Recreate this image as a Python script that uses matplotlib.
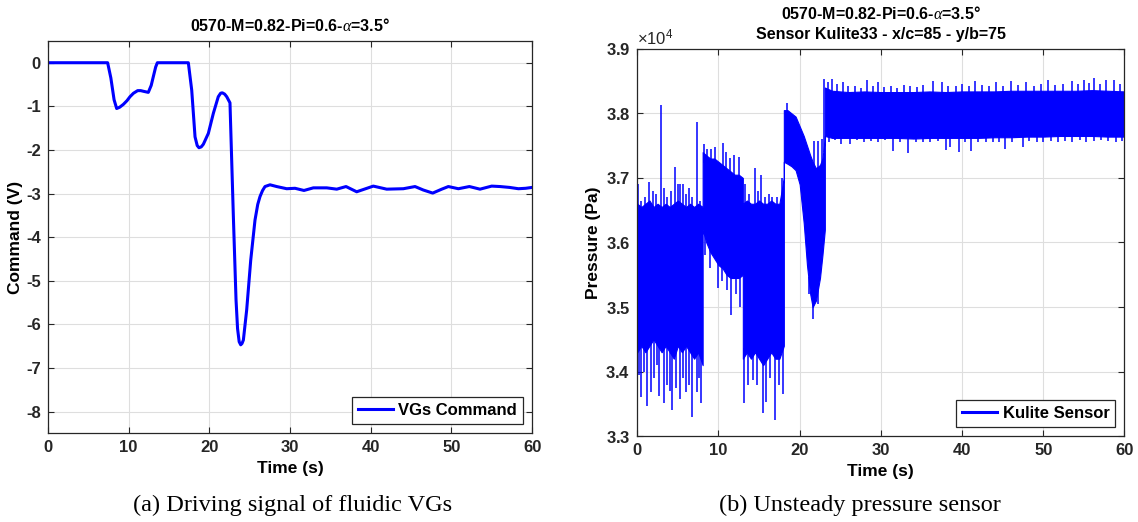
import numpy as np
import matplotlib
matplotlib.use("Agg")
import matplotlib.pyplot as plt
from matplotlib.ticker import ScalarFormatter

# ---------------- (a) VG driving command ----------------
cmd_t = [0, 7.4, 7.8, 8.2, 8.52, 8.9, 9.35, 9.8, 10.17, 10.6, 11.12, 11.5, 11.83,
         12.44, 12.8, 13.06, 13.35, 13.56, 17.4, 17.82, 18.23, 18.5, 18.72, 19.0,
         19.26, 19.88, 20.5, 21.11, 21.4, 21.61, 21.9, 22.16, 22.56, 22.98, 23.31,
         23.5, 23.7, 23.89, 24.05, 24.22, 24.63, 25.13, 25.66, 26.0, 26.28, 26.6,
         26.9, 27.52, 28.35, 29.59, 30.62, 31.73, 32.89, 34.55, 35.79, 36.94,
         38.26, 40.32, 41.98, 44.04, 45.49, 46.52, 47.68, 48.8, 49.62, 50.86,
         52.22, 53.54, 54.99, 56.02, 57.2, 58.3, 59.2, 60.0]
cmd_v = [0, 0, -0.35, -0.85, -1.05, -1.02, -0.955, -0.87, -0.78, -0.70, -0.64,
         -0.64, -0.655, -0.68, -0.52, -0.32, -0.1, 0, 0, -0.63, -1.70, -1.90,
         -1.95, -1.93, -1.87, -1.62, -1.16, -0.78, -0.70, -0.69, -0.72, -0.78,
         -0.92, -3.53, -5.44, -6.10, -6.40, -6.47, -6.44, -6.36, -5.67, -4.53,
         -3.61, -3.25, -3.07, -2.93, -2.84, -2.80, -2.84, -2.89, -2.88, -2.93,
         -2.87, -2.87, -2.90, -2.84, -2.96, -2.83, -2.90, -2.89, -2.84, -2.92,
         -2.99, -2.90, -2.84, -2.89, -2.84, -2.90, -2.83, -2.84, -2.86, -2.89,
         -2.88, -2.86]

# ---------------- (b) Kulite pressure signal (Pa) ----------------
# band of the dense signal: time, upper and lower envelope
env_t = [0, 0.5, 1, 1.5, 2, 2.5, 3, 3.5, 4, 4.5, 5, 5.5, 6, 6.5, 7, 7.5, 8.05,
         8.05, 8.5, 9, 9.5, 10, 10.5, 11, 11.5, 12, 12.5, 13.0,
         13.0, 13.5, 14, 14.5, 15, 15.5, 16, 16.5, 17, 17.5, 18.05,
         18.05, 18.5, 19.0, 19.5, 20.0, 20.5, 20.9, 21.3, 21.6, 22.0, 22.5, 22.8, 23.1,
         23.1, 24, 26, 28, 30, 32, 34, 36, 38, 40, 42, 44, 46, 48, 50, 52, 54,
         56, 58, 60]
env_hi = [36600, 36550, 36600, 36650, 36550, 36600, 36550, 36600, 36550, 36600,
          36650, 36600, 36550, 36600, 36550, 36600, 36550,
          37400, 37350, 37300, 37300, 37250, 37200, 37150, 37100, 37050, 37050, 37000,
          36600, 36650, 36600, 36600, 36650, 36600, 36600, 36650, 36600, 36600, 37000,
          38050, 38050, 38000, 37950, 37800, 37650, 37500, 37350, 37250, 37150, 37200,
          37300, 37600,
          38400, 38350, 38330, 38340, 38330, 38330, 38330, 38340, 38330, 38340, 38340,
          38340, 38350, 38350, 38350, 38350, 38350, 38360, 38350, 38340]
env_lo = [34300, 34400, 34300, 34400, 34500, 34400, 34300, 34400, 34300, 34200,
          34400, 34300, 34400, 34300, 34200, 34300, 34100,
          36200, 36000, 35850, 35750, 35650, 35600, 35500, 35450, 35450, 35450, 35500,
          34200, 34300, 34200, 34300, 34200, 34100, 34200, 34300, 34200, 34200, 34400,
          37250, 37220, 37180, 37120, 36900, 36300, 35650, 35200, 35000, 35100, 35450,
          35800, 36200,
          37650, 37620, 37620, 37620, 37620, 37620, 37610, 37620, 37620, 37620, 37620,
          37630, 37630, 37640, 37640, 37650, 37650, 37650, 37640, 37640]

# isolated excursions above the band (time, value)
spk_up_t = [0.05, 0.4, 0.9, 1.5, 1.9, 2.3, 2.92, 3.3, 3.7, 4.1, 4.64, 5.0, 5.2,
            5.6, 6.0, 6.4, 6.8, 7.31, 7.7,
            8.2, 8.6, 9.1, 9.6, 10.5, 10.9, 11.4, 11.9, 12.5,
            13.3, 13.8, 14.45, 14.9, 15.2, 15.7, 16.2, 16.6, 17.2, 17.8,
            18.5, 21.8, 22.3, 22.7,
            23.05, 23.5, 24.0, 24.6, 25.3, 26.0, 26.8, 27.5, 28.3, 29.0, 29.6,
            30.4, 31.2, 32.0, 32.8, 33.6, 34.4, 35.2, 36.4, 37.5, 38.3, 39.2,
            40.0, 40.8, 41.6, 42.5, 43.3, 44.2, 45.1, 46.0, 46.9, 47.9, 48.8,
            49.7, 50.6, 51.5, 52.4, 53.6, 54.3, 55.0, 55.6, 56.2, 57.0, 57.7,
            58.7, 59.5]
spk_up_v = [36900, 36650, 36700, 36930, 36800, 36750, 38130, 36850, 36700, 36800,
            37170, 36900, 36900, 36900, 36750, 36850, 36700, 37870, 36650,
            37520, 37450, 37450, 37480, 37540, 37400, 37310, 37350, 37330,
            36900, 36750, 37150, 36800, 37050, 36700, 36750, 36700, 36700, 37000,
            38160, 37570, 37570, 37600,
            38530, 38480, 38530, 38460, 38480, 38420, 38430, 38400, 38510, 38420,
            38480, 38410, 38420, 38400, 38440, 38420, 38410, 38440, 38500, 38480,
            38420, 38430, 38450, 38420, 38500, 38440, 38420, 38480, 38430, 38500,
            38440, 38480, 38420, 38450, 38520, 38440, 38460, 38500, 38450, 38520,
            38470, 38550, 38460, 38520, 38520, 38450]

# isolated excursions below the band (time, value)
spk_dn_t = [0.2, 0.46, 0.8, 1.15, 1.64, 2.0, 2.4, 2.7, 3.3, 3.7, 4.0, 4.3, 4.8,
            5.2, 5.6, 6.0, 6.4, 6.8, 7.3, 7.6, 7.9,
            8.4, 9.0, 9.9, 10.4, 11.1, 11.6, 12.2, 12.7,
            13.1, 13.6, 14.3, 14.8, 15.5, 15.8, 16.3, 17.0, 17.5, 17.9,
            21.2, 21.6, 22.3,
            23.6, 24.3, 25.1, 26.2, 27.0, 27.9, 28.8, 29.7, 30.5, 31.5, 32.4,
            33.4, 34.3, 35.2, 36.1, 37.0, 38.0, 38.5, 39.6, 40.3, 41.1, 42.0,
            42.9, 43.8, 44.6, 45.3, 46.2, 47.5, 48.3, 49.2, 50.0, 50.9, 51.8,
            52.7, 53.6, 54.5, 55.3, 56.2, 57.1, 58.0, 58.9, 59.7]
spk_dn_v = [33950, 33610, 34000, 33460, 33680, 33900, 34100, 33630, 33510, 33800,
            33700, 33400, 33750, 33580, 33900, 33680, 33800, 33300, 33680, 33900,
            33510,
            35800, 35600, 35300, 35400, 35260, 34880, 35200, 35000,
            33510, 33800, 33870, 33800, 33360, 33530, 33900, 33250, 33800, 33650,
            35200, 34820, 35040,
            37560, 37580, 37530, 37530, 37580, 37560, 37570, 37550, 37580, 37420,
            37560, 37380, 37560, 37560, 37550, 37570, 37430, 37480, 37400, 37560,
            37420, 37560, 37560, 37550, 37560, 37450, 37560, 37480, 37570, 37560,
            37560, 37570, 37560, 37570, 37560, 37580, 37560, 37570, 37580, 37570,
            37560, 37570]

# ---------------- styling ----------------
plt.rcParams['font.family'] = ['Liberation Sans', 'DejaVu Sans']
plt.rcParams['mathtext.fontset'] = 'custom'
plt.rcParams['mathtext.it'] = 'Liberation Serif:italic'
plt.rcParams['mathtext.rm'] = 'Liberation Sans'
plt.rcParams['axes.unicode_minus'] = False

BLUE = (0, 0, 1)
SPINE = (0.15, 0.15, 0.15)
GRID = (0.87, 0.87, 0.87)


def style_axes(ax):
    ax.grid(True, color=GRID, linewidth=0.8)
    ax.set_axisbelow(True)
    for s in ax.spines.values():
        s.set_color(SPINE)
        s.set_linewidth(0.9)
    ax.tick_params(direction='in', length=4, width=0.8, colors=SPINE,
                   top=True, right=True, labelsize=12, pad=5)
    for lab in ax.get_xticklabels() + ax.get_yticklabels():
        lab.set_fontweight('bold')
        lab.set_color((0.15, 0.15, 0.15))


def add_legend(ax):
    leg = ax.legend(loc='lower right', frameon=True, fancybox=False,
                    edgecolor=SPINE, framealpha=1, handlelength=2.1,
                    handletextpad=0.35, borderpad=0.35, borderaxespad=0.55,
                    prop={'weight': 'bold', 'size': 12})
    leg.get_frame().set_linewidth(0.9)
    return leg


fig = plt.figure(figsize=(11.38, 5.22), dpi=100)

# ---- left panel ----
axL = fig.add_axes([0.0421, 0.1699, 0.4255, 0.7517])
axL.plot(cmd_t, cmd_v, color=BLUE, linewidth=2.2, label='VGs Command',
         solid_joinstyle='round')
axL.set_xlim(0, 60)
axL.set_ylim(-8.5, 0.5)
axL.set_xticks(range(0, 61, 10))
axL.set_yticks(range(-8, 1))
style_axes(axL)
axL.set_xlabel('Time (s)', fontsize=12.5, fontweight='bold', labelpad=4)
axL.set_ylabel('Command (V)', fontsize=12.5, fontweight='bold', labelpad=2)
axL.set_title(r'0570-M=0.82-Pi=0.6-$\alpha$=3.5°', fontsize=11.5,
              fontweight='bold', pad=7)
add_legend(axL)

# ---- right panel ----
axR = fig.add_axes([0.5600, 0.1644, 0.4281, 0.7421])
axR.fill_between(env_t, env_lo, env_hi, color=BLUE, linewidth=0.8,
                 edgecolor=BLUE)
t_arr = np.array(env_t)
base_hi = np.interp(spk_up_t, t_arr, np.array(env_hi))
base_lo = np.interp(spk_dn_t, t_arr, np.array(env_lo))
axR.vlines(spk_up_t, base_hi - 150, spk_up_v, color=BLUE, linewidth=1.1)
axR.vlines(spk_dn_t, spk_dn_v, base_lo + 150, color=BLUE, linewidth=1.1)
axR.plot([], [], color=BLUE, linewidth=2.2, label='Kulite Sensor')
axR.set_xlim(0, 60)
axR.set_ylim(33000, 39000)
axR.set_xticks(range(0, 61, 10))
axR.set_yticks(np.arange(33000, 39001, 1000))
fmt = ScalarFormatter(useMathText=True)
fmt.set_powerlimits((0, 0))
axR.yaxis.set_major_formatter(fmt)
style_axes(axR)
axR.yaxis.get_offset_text().set_fontsize(12)
axR.yaxis.get_offset_text().set_color((0.15, 0.15, 0.15))
axR.set_xlabel('Time (s)', fontsize=12.5, fontweight='bold', labelpad=4)
axR.set_ylabel('Pressure (Pa)', fontsize=12.5, fontweight='bold', labelpad=3)
axR.set_title('0570-M=0.82-Pi=0.6-$\\alpha$=3.5°\nSensor Kulite33 - x/c=85 - y/b=75',
              fontsize=11.5, fontweight='bold', pad=7, linespacing=1.45)
add_legend(axR)

# ---- sub-captions ----
fig.text(0.2570, 0.012, '(a) Driving signal of fluidic VGs', ha='center',
         va='bottom', fontsize=17.5, family='Liberation Serif')
fig.text(0.7560, 0.012, '(b) Unsteady pressure sensor', ha='center',
         va='bottom', fontsize=17.5, family='Liberation Serif')

fig.savefig('out.png', dpi=100)
